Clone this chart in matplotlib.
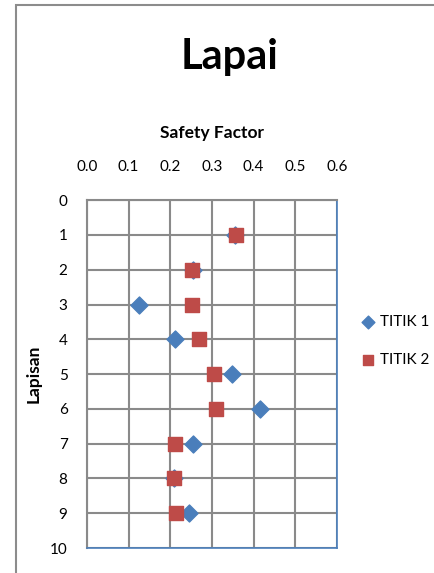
"""Lapai safety factor per layer (scatter, inverted depth axis)."""

import matplotlib

matplotlib.use("Agg")
import matplotlib.pyplot as plt
from matplotlib.patches import Rectangle

plt.rcParams["font.family"] = ["Lato", "DejaVu Sans"]

lapisan = [1, 2, 3, 4, 5, 6, 7, 8, 9]
titik1 = [0.354, 0.254, 0.125, 0.21, 0.347, 0.415, 0.255, 0.208, 0.244]
titik2 = [0.357, 0.251, 0.253, 0.268, 0.304, 0.31, 0.211, 0.208, 0.214]
x_ticks = [0.0, 0.1, 0.2, 0.3, 0.4, 0.5, 0.6]
y_ticks = list(range(0, 11))

fig = plt.figure(figsize=(4.34, 5.73), dpi=100)
ax = fig.add_axes([0.2005, 0.0436, 0.576, 0.607])

# chart frame (cropped on right/bottom)
fig.patches.append(
    Rectangle((16 / 434, -0.1), 1.2, 1 - 5 / 573 + 0.1,
              transform=fig.transFigure, fill=False,
              edgecolor="#8c8c8c", linewidth=1.5)
)

ax.scatter(titik1, lapisan, marker="D", s=75, color="#4a7ebb",
           label="TITIK 1", zorder=3)
ax.scatter(titik2, lapisan, marker="s", s=100, color="#be4b48",
           label="TITIK 2", zorder=4)

ax.set_xlim(0, 0.6)
ax.set_ylim(10, 0)
ax.set_xticks(x_ticks)
ax.set_xticklabels([f"{v:.1f}" for v in x_ticks])
ax.set_yticks(y_ticks)
ax.xaxis.tick_top()
ax.xaxis.set_label_position("top")
ax.tick_params(length=0, labelsize=11)
ax.tick_params(axis="x", pad=19)
ax.tick_params(axis="y", pad=14)
ax.grid(True, color="#8a8a8a", linewidth=1.5)
ax.set_axisbelow(True)
for side in ("left", "top"):
    ax.spines[side].set_color("#8a8a8a")
    ax.spines[side].set_linewidth(1.5)
for side in ("right", "bottom"):
    ax.spines[side].set_color("#4a7ebb")
    ax.spines[side].set_linewidth(1.2)

ax.set_xlabel("Safety Factor", fontsize=12.5, fontweight="bold", labelpad=16)
ax.set_ylabel("Lapisan", fontsize=12.5, fontweight="bold", labelpad=6)
fig.text(0.529, 0.9, "Lapai", ha="center", va="center",
         fontsize=30, fontweight="bold")

ax.legend(loc="center left", bbox_to_anchor=(1.07, 0.595), frameon=False,
          fontsize=11, handlelength=1.0, handletextpad=0.25,
          labelspacing=1.6, markerscale=0.75, borderaxespad=0)

fig.savefig("out.png", dpi=100)
